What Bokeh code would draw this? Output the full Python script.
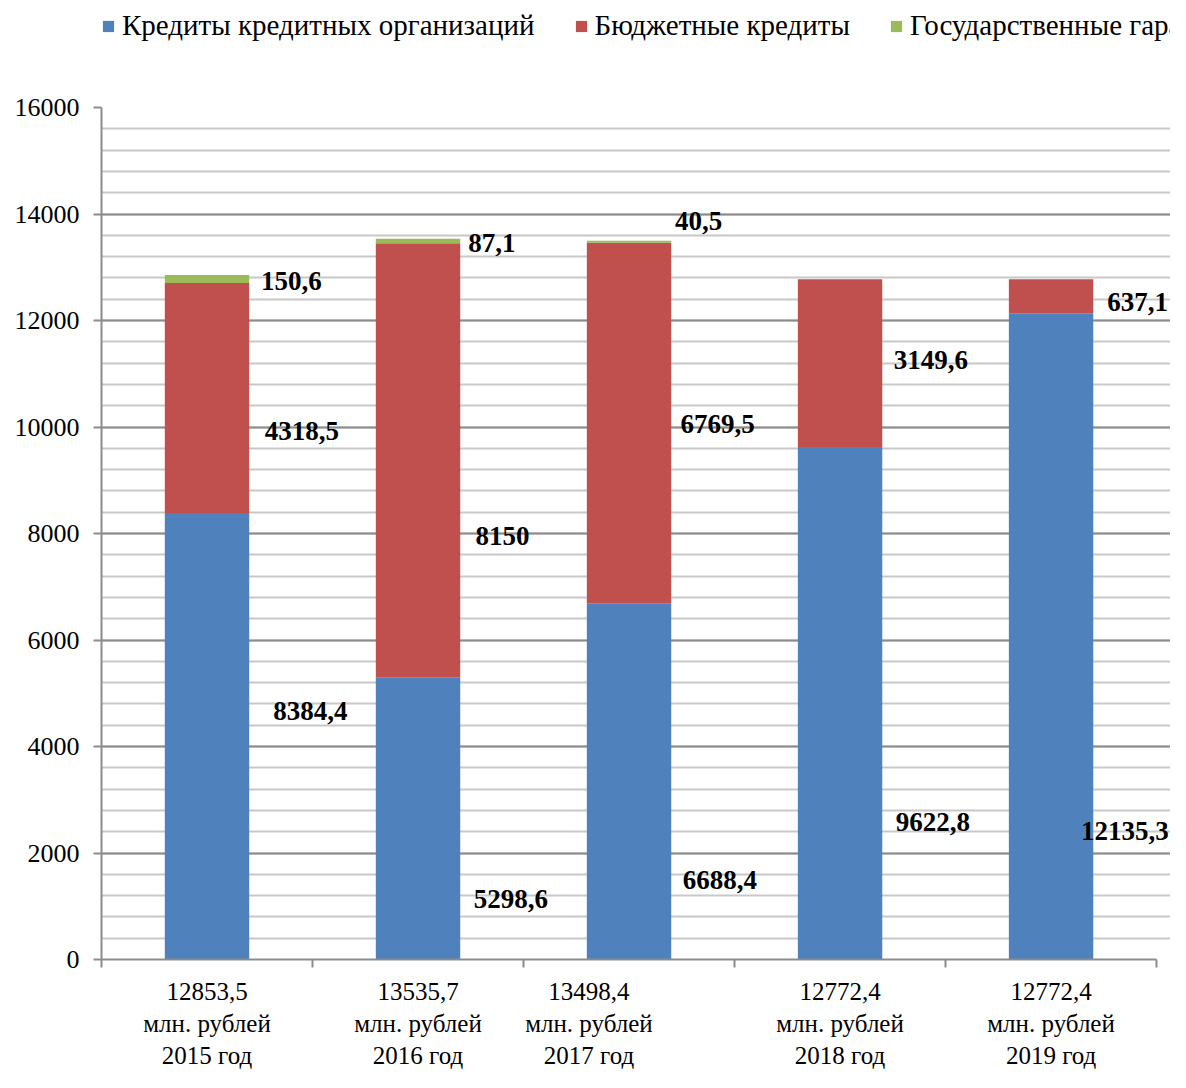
import numpy as np
from bokeh.plotting import figure
from bokeh.layouts import column
from bokeh.models import (ColumnDataSource, FixedTicker, LabelSet, Legend, LegendItem, Range1d)
from bokeh.core.properties import value
from bokeh.embed import file_html
from bokeh.resources import INLINE

# ---- data ----
years = ["2015 год", "2016 год", "2017 год", "2018 год", "2019 год"]
totals = ["12853,5", "13535,7", "13498,4", "12772,4", "12772,4"]
series_names = ["Кредиты кредитных организаций", "Бюджетные кредиты", "Государственные гарантии"]
credit_org = [8384.4, 5298.6, 6688.4, 9622.8, 12135.3]
budget = [4318.5, 8150.0, 6769.5, 3149.6, 637.1]
guarantees = [150.6, 87.1, 40.5, 0.0, 0.0]

# data-label placement
credit_lbl_y = [4658, 1142, 1491, 2578, 2412]
budget_lbl_y = [9924, 7954, 10053, 11250, 12354]
guar_lbl_y = [12741, 13459, 13864, None, None]
credit_lbl_dx = [0.49, 0.44, 0.43, 0.44, 0.35]
budget_lbl_dx = [0.45, 0.40, 0.42, 0.43, 0.41]
guar_lbl_dx = [0.40, 0.35, 0.33, 0.0, 0.0]
cat_label_x = [0.5, 1.5, 2.31, 3.5, 4.5]

colors = ["#4F81BD", "#C0504D", "#9BBB59"]
FONT = "Liberation Serif"
W = 1170
LEG_H = 60

n = len(years)
centers = [i + 0.5 for i in range(n)]
src = ColumnDataSource(dict(x=centers, credit=credit_org, budget=budget, guar=guarantees))

# ---- legend strip ----
lg = figure(width=W, height=LEG_H, output_backend="svg", toolbar_location=None,
            x_range=Range1d(0, 1), y_range=Range1d(0, 1),
            x_axis_type=None, y_axis_type=None, min_border=0)
lg.outline_line_color = None
lg.xgrid.visible = False
lg.ygrid.visible = False
dummies = [lg.vbar(x=[0], top=[0], bottom=[0], width=0, fill_color=c, line_color=None) for c in colors]
items = [LegendItem(label=nm, renderers=[r]) for nm, r in zip(series_names, dummies)]
legend = Legend(items=items, orientation="horizontal", location=(0, 18),
                padding=0, margin=0, border_line_color=None, background_fill_alpha=0,
                glyph_width=14, glyph_height=14, label_standoff=7, spacing=39,
                label_text_font=FONT, label_text_font_size="29px", label_text_color="black")
lg.add_layout(legend, "center")

# ---- main chart ----
p = figure(width=W, height=1072 - LEG_H, output_backend="svg", toolbar_location=None,
           x_range=Range1d(0, 5.066), y_range=Range1d(0, 16000),
           min_border_left=101, min_border_right=0, min_border_top=107 - LEG_H, min_border_bottom=0)
p.outline_line_color = None

p.vbar_stack(["credit", "budget", "guar"], x="x", width=0.4, source=src,
             color=colors, line_color=None)

# y axis / grid
yt = FixedTicker(ticks=list(range(0, 16001, 2000)), minor_ticks=list(range(0, 16001, 400)))
p.yaxis.ticker = yt
p.ygrid.ticker = yt
p.ygrid.grid_line_color = "#8C8C8C"
p.ygrid.grid_line_width = 2
p.ygrid.minor_grid_line_color = "#C8C8C8"
p.ygrid.minor_grid_line_width = 2
p.xgrid.grid_line_color = None
p.yaxis.axis_line_color = "#8C8C8C"
p.yaxis.axis_line_width = 2
p.yaxis.major_tick_line_color = "#8C8C8C"
p.yaxis.major_tick_line_width = 2
p.yaxis.major_tick_out = 8
p.yaxis.major_tick_in = 0
p.yaxis.minor_tick_line_color = None
p.yaxis.major_label_text_font = FONT
p.yaxis.major_label_text_font_size = "26px"
p.yaxis.major_label_text_color = "black"
p.yaxis.major_label_standoff = 14

# x axis
xt = FixedTicker(ticks=cat_label_x, minor_ticks=list(range(0, n + 1)))
p.xaxis.ticker = xt
p.xaxis.bounds = (0, n)
p.xaxis.major_label_overrides = {cx: f"{t}\nмлн. рублей\n{y}" for cx, t, y in zip(cat_label_x, totals, years)}
p.xaxis.axis_line_color = "#8C8C8C"
p.xaxis.axis_line_width = 2
p.xaxis.major_tick_line_color = None
p.xaxis.minor_tick_line_color = "#8C8C8C"
p.xaxis.minor_tick_line_width = 2
p.xaxis.minor_tick_out = 8
p.xaxis.minor_tick_in = 0
p.xaxis.major_label_text_font = FONT
p.xaxis.major_label_text_font_size = "25px"
p.xaxis.major_label_text_color = "black"
p.xaxis.major_label_standoff = 10

# data labels
def fmt(v):
    return f"{v:g}".replace(".", ",")

lx, ly, lt = [], [], []
for vals, ys, dxs in [(guarantees, guar_lbl_y, guar_lbl_dx),
                      (budget, budget_lbl_y, budget_lbl_dx),
                      (credit_org, credit_lbl_y, credit_lbl_dx)]:
    for c, v, yy, dx in zip(centers, vals, ys, dxs):
        if v > 0 and yy is not None:
            lx.append(c + dx)
            ly.append(yy)
            lt.append(fmt(v))
lsrc = ColumnDataSource(dict(x=lx, y=ly, t=lt))
labels = LabelSet(x="x", y="y", text="t", source=lsrc, text_font=value(FONT),
                  text_font_size="27px", text_font_style="bold", text_color="black",
                  text_align="center", text_baseline="middle")
p.add_layout(labels)

layout = column(lg, p, spacing=0)
open("out.html", "w").write(file_html(layout, INLINE))
